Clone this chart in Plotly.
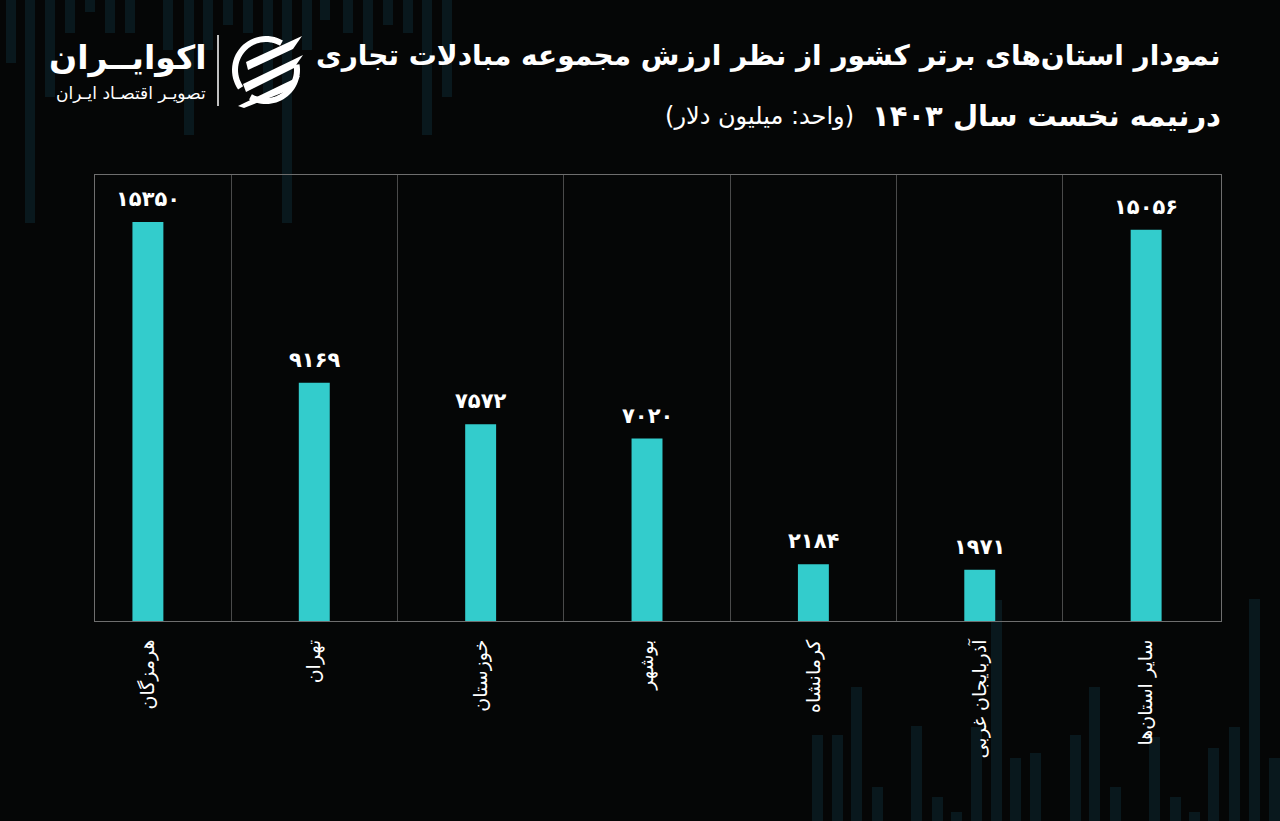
import math
import plotly.graph_objects as go

# ---------------- data ----------------
provinces = ["هرمزگان", "تهران", "خوزستان", "بوشهر", "کرمانشاه", "آذربایجان غربی", "سایر استان‌ها"]
trade_values = [15350, 9169, 7572, 7020, 2184, 1971, 15056]

title_line1 = "نمودار استان‌های برتر کشور از نظر ارزش مجموعه مبادلات تجاری"
title_line2 = "درنیمه نخست سال ۱۴۰۳"
unit_text = "(واحد: میلیون دلار)"
brand_name = "اکوایــران"
brand_tag = "تصویـر اقتصـاد ایـران"

# ---------------- style ----------------
W, H = 1280, 821
BG = "#050606"
BAR = "#33CCCC"
FONT = "DejaVu Sans"
PL, PR, PT, PB = 95, 59, 175, 200
PW, PH = W - PL - PR, H - PT - PB

FA_DIGITS = str.maketrans("0123456789", "۰۱۲۳۴۵۶۷۸۹")


def fa(n):
    return str(n).translate(FA_DIGITS)


def px(x):
    # figure pixel -> paper (plot-area) fraction
    return (x - PL) / PW


def py(y):
    return 1 - (y - PT) / PH


fig = go.Figure()
fig.add_trace(go.Bar(
    x=provinces, y=trade_values, width=0.186,
    marker=dict(color=BAR, line=dict(width=0)),
    hoverinfo="x+y",
))

annotations = []
for p, v in zip(provinces, trade_values):
    annotations.append(dict(
        x=p, y=v, xref="x", yref="y", text="<b>" + fa(v) + "</b>",
        showarrow=False, yanchor="bottom", yshift=9,
        font=dict(family=FONT, size=21, color="white"),
    ))

# titles and brand
annotations += [
    dict(x=px(1223), y=py(55), xref="paper", yref="paper", xanchor="right", yanchor="middle",
         text="<b>" + title_line1 + "</b>", showarrow=False,
         font=dict(family=FONT, size=28, color="white")),
    dict(x=px(1223), y=py(116), xref="paper", yref="paper", xanchor="right", yanchor="middle",
         text="<b>" + title_line2 + "</b>", showarrow=False,
         font=dict(family=FONT, size=29, color="white")),
    dict(x=px(856), y=py(116), xref="paper", yref="paper", xanchor="right", yanchor="middle",
         text=unit_text, showarrow=False,
         font=dict(family=FONT, size=24, color="white")),
    dict(x=px(208), y=py(58), xref="paper", yref="paper", xanchor="right", yanchor="middle",
         text="<b>" + brand_name + "</b>", showarrow=False,
         font=dict(family=FONT, size=33, color="white")),
    dict(x=px(208), y=py(93), xref="paper", yref="paper", xanchor="right", yanchor="middle",
         text=brand_tag, showarrow=False,
         font=dict(family=FONT, size=17, color="white")),
]

# ---------------- decorative background ----------------
shapes = []
DEC = "rgba(16,50,62,0.42)"
top_bars = [(6, 63), (25, 223), (45, 97), (65, 33), (85, 12), (105, 33), (125, 33),
            (163, 50), (184, 135), (203, 50), (223, 25), (243, 33), (263, 97),
            (282, 223), (302, 50), (320, 20), (343, 33), (363, 50), (383, 25),
            (403, 33), (422, 135), (442, 97)]
for x0, yb in top_bars:
    shapes.append(dict(type="rect", xref="paper", yref="paper", layer="below",
                       x0=px(x0), x1=px(x0 + 10), y0=py(yb), y1=py(0),
                       fillcolor=DEC, line=dict(width=0)))
bottom_bars = [(812, 735), (832, 735), (851, 687), (872, 787), (911, 726), (932, 797),
               (951, 812), (971, 727), (991, 600), (1010, 758), (1030, 753), (1070, 735),
               (1089, 687), (1110, 787), (1149, 737), (1170, 797), (1189, 812),
               (1208, 748), (1229, 727), (1249, 599), (1269, 758)]
for x0, yt in bottom_bars:
    shapes.append(dict(type="rect", xref="paper", yref="paper", layer="below",
                       x0=px(x0), x1=px(x0 + 11), y0=py(H), y1=py(yt),
                       fillcolor=DEC, line=dict(width=0)))

# logo separator
shapes.append(dict(type="line", xref="paper", yref="paper",
                   x0=px(218), x1=px(218), y0=py(35), y1=py(106),
                   line=dict(color="white", width=1.5)))


def arc_path(cx, cy, r, a0, a1, n=30):
    pts = []
    for i in range(n + 1):
        a = math.radians(a0 + (a1 - a0) * i / n)
        pts.append((cx + r * math.cos(a), cy - r * math.sin(a)))
    return "M " + " L ".join(f"{px(x):.5f},{py(y):.5f}" for x, y in pts)


cx, cy, r = 266, 70, 31
shapes.append(dict(type="path", xref="paper", yref="paper", path=arc_path(cx, cy, r, 60, 215),
                   line=dict(color="white", width=6)))
shapes.append(dict(type="path", xref="paper", yref="paper", path=arc_path(cx, cy, r, -120, 10),
                   line=dict(color="white", width=6)))


def poly(pts):
    return "M " + " L ".join(f"{px(x):.5f},{py(y):.5f}" for x, y in pts) + " Z"


stripes = [
    [(246, 62), (302, 36), (293, 49), (248, 70)],
    [(243, 84), (303, 55), (294, 68), (246, 92)],
    [(238, 106), (300, 76), (292, 89), (244, 108)],
]
for s in stripes:
    shapes.append(dict(type="path", xref="paper", yref="paper", path=poly(s),
                       fillcolor="white", line=dict(width=0)))

fig.update_layout(
    width=W, height=H,
    margin=dict(l=PL, r=PR, t=PT, b=PB),
    paper_bgcolor=BG, plot_bgcolor="rgba(0,0,0,0)",
    showlegend=False,
    annotations=annotations,
    shapes=shapes,
    font=dict(family=FONT, color="white"),
    xaxis=dict(
        type="category", tickson="boundaries",
        showgrid=True, gridcolor="#4a4a4a", gridwidth=1,
        showline=True, linecolor="#6e6e6e", linewidth=1, mirror=True,
        ticks="", ticklabelstandoff=10,
        tickangle=-90, tickfont=dict(family=FONT, size=19, color="white"),
        range=[-0.318, 6.45], fixedrange=True,
    ),
    yaxis=dict(
        range=[0, 17160], showgrid=False, zeroline=False,
        showticklabels=False, ticks="",
        showline=True, linecolor="#6e6e6e", linewidth=1, mirror=True,
        fixedrange=True,
    ),
)

fig.write_html("out.html")
